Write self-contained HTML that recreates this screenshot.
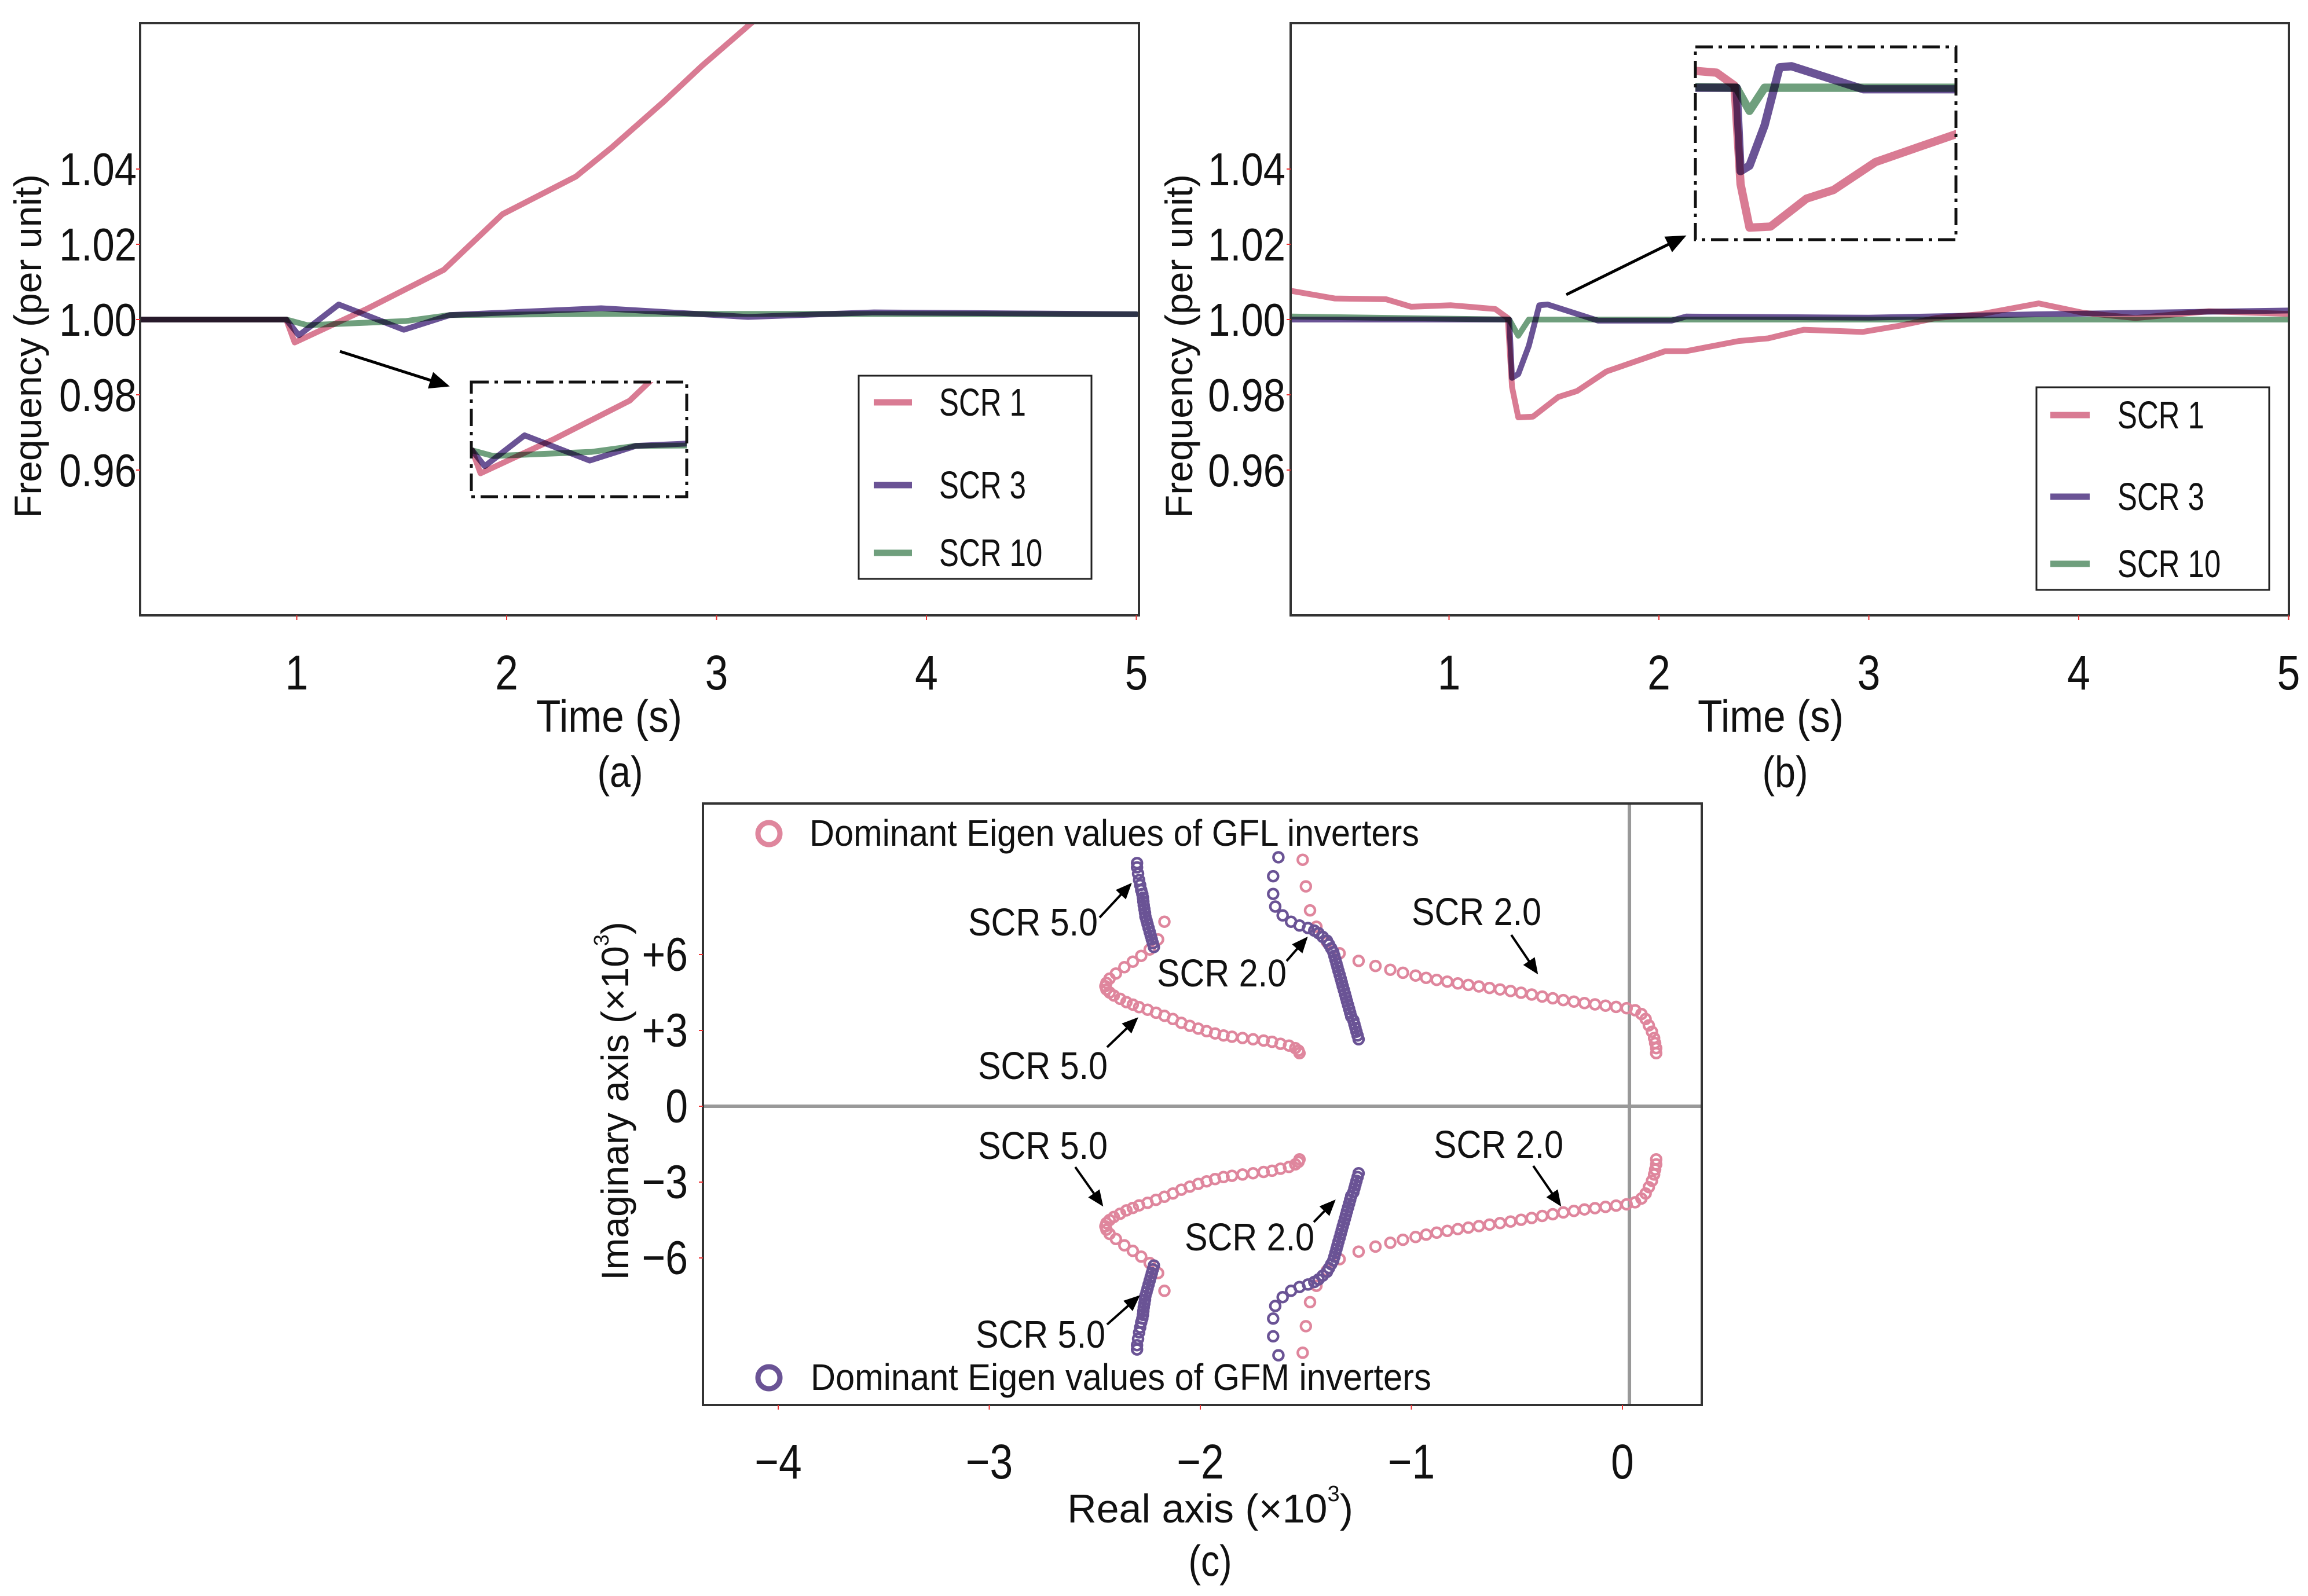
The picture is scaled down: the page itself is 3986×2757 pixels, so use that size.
<!DOCTYPE html>
<html><head><meta charset="utf-8"><style>
html,body{margin:0;padding:0;background:#fff;}
svg{display:block;font-family:"Liberation Sans",sans-serif;}
</style></head><body>
<svg id="fig" width="3986" height="2757" viewBox="0 0 3986 2757" xmlns="http://www.w3.org/2000/svg">
<defs>
<clipPath id="clipA"><rect x="242" y="40" width="1725" height="1023"/></clipPath>
<clipPath id="clipB"><rect x="2229" y="40" width="1724" height="1023"/></clipPath>
<clipPath id="clipInA"><rect x="814" y="660" width="372" height="198"/></clipPath>
<clipPath id="clipInB"><rect x="2928" y="81" width="450" height="333"/></clipPath>
<marker id="arr" markerWidth="8" markerHeight="8" refX="6" refY="4" orient="auto" markerUnits="strokeWidth"><path d="M0,1 L7,4 L0,7 z" fill="#000"/></marker>
</defs>
<rect width="3986" height="2757" fill="#fff"/>
<g id="root"></g>
</svg>
<script>
// ---------- Panel (a) data ----------
const aPinkT=[0.25,0.95,0.99,1.34,1.70,1.98,2.33,2.50,2.75,2.93,3.17,3.3];
const aPinkV=[1.0,1.0,0.9939,1.003,1.0132,1.028,1.038,1.0457,1.058,1.0674,1.079,1.085];
const aPurT=[0.25,0.95,1.01,1.2,1.51,1.73,2.45,3.15,3.75,5.0];
const aPurV=[1.0,1.0,0.9958,1.004,0.9973,1.0012,1.003,1.0007,1.0019,1.0014];
const aGrnT=[0.25,0.95,1.05,1.52,1.73,2.5,3.5,5.0];
const aGrnV=[1.0,1.0,0.9985,0.9996,1.0012,1.0015,1.0015,1.0014];
// ---------- Panel (b) data ----------
const bPinkT=[0.25,0.455,0.70,0.82,1.01,1.22,1.28,1.30,1.33,1.40,1.52,1.61,1.75,1.89,2.03,2.13,2.38,2.52,2.69,2.97,3.15,3.32,3.53,3.81,4.02,4.27,4.62,5.0];
const bPinkV=[1.0076,1.0056,1.0054,1.0034,1.0038,1.0028,1.0004,0.9821,0.974,0.9742,0.9794,0.981,0.9862,0.9889,0.9916,0.9916,0.9943,0.995,0.9973,0.9967,0.9984,1.0004,1.0014,1.0043,1.0018,1.0004,1.0022,1.0015];
const bPurT=[0.25,1.287,1.30,1.33,1.38,1.43,1.47,1.71,2.06,2.13,3.0,3.81,5.0];
const bPurV=[1.0,1.0,0.9845,0.9855,0.993,1.0038,1.004,0.9997,0.9997,1.0008,1.0005,1.0014,1.0024];
const bGrnT=[0.25,1.287,1.33,1.38,1.5,5.0];
const bGrnV=[1.0008,1.0,0.9957,1.0,1.0,1.0];
// ---------- Panel (c) eigenvalue data (real, imag) x10^3, upper half; conjugates drawn below ----------
const gflScr5Re=[-1.53,-1.535,-1.55,-1.58,-1.62,-1.66,-1.70,-1.75,-1.80,-1.85,-1.89,-1.93,-1.97,-2.01,-2.05,-2.09,-2.13,-2.17,-2.21,-2.25,-2.29,-2.32,-2.35,-2.38,-2.41,-2.43,-2.445,-2.45,-2.445,-2.43,-2.40,-2.36,-2.32,-2.28,-2.24,-2.20,-2.17];
const gflScr5Im=[2.1,2.2,2.3,2.4,2.47,2.55,2.6,2.65,2.7,2.75,2.8,2.88,2.97,3.07,3.18,3.3,3.45,3.58,3.7,3.82,3.92,4.02,4.12,4.25,4.38,4.5,4.62,4.75,4.88,5.05,5.25,5.5,5.72,5.95,6.2,6.6,7.3];
const gfmScr5Re=[-2.22,-2.225,-2.23,-2.235,-2.24,-2.245,-2.25,-2.255,-2.26,-2.262,-2.265,-2.268,-2.27,-2.272,-2.275,-2.28,-2.285,-2.29,-2.295,-2.30,-2.30];
const gfmScr5Im=[6.3,6.45,6.6,6.75,6.9,7.05,7.2,7.35,7.5,7.65,7.8,7.95,8.1,8.25,8.4,8.55,8.75,8.95,9.2,9.45,9.62];
const gflScr2Re=[0.16,0.16,0.155,0.15,0.14,0.125,0.11,0.09,0.06,0.02,-0.03,-0.08,-0.13,-0.18,-0.23,-0.28,-0.33,-0.38,-0.43,-0.48,-0.53,-0.58,-0.63,-0.68,-0.73,-0.78,-0.83,-0.88,-0.93,-0.98,-1.04,-1.10,-1.17,-1.25,-1.34,-1.40,-1.45,-1.48,-1.50,-1.515];
const gflScr2Im=[2.1,2.3,2.5,2.7,2.95,3.2,3.45,3.65,3.8,3.88,3.93,3.98,4.03,4.08,4.14,4.2,4.27,4.34,4.42,4.49,4.56,4.62,4.68,4.74,4.8,4.86,4.93,5.0,5.08,5.17,5.28,5.4,5.55,5.75,6.05,6.5,7.1,7.75,8.7,9.75];
const gfmScr2Re=[-1.25,-1.255,-1.26,-1.265,-1.27,-1.275,-1.285,-1.29,-1.295,-1.30,-1.305,-1.31,-1.315,-1.32,-1.325,-1.33,-1.335,-1.34,-1.345,-1.35,-1.355,-1.36,-1.365,-1.37,-1.38,-1.39,-1.40,-1.42,-1.44,-1.46,-1.49,-1.53,-1.57,-1.61,-1.645,-1.655,-1.655,-1.63];
const gfmScr2Im=[2.65,2.8,2.95,3.1,3.25,3.4,3.55,3.7,3.85,4.0,4.15,4.3,4.45,4.6,4.75,4.9,5.05,5.2,5.35,5.5,5.65,5.8,5.95,6.1,6.25,6.4,6.55,6.7,6.85,6.95,7.05,7.15,7.3,7.55,7.9,8.4,9.1,9.85];
const freqTicks=[1.04,1.02,1.00,0.98,0.96];
const freqTickLabels=["1.04","1.02","1.00","0.98","0.96"];
const timeTicks=[1,2,3,4,5];
const realTicks=[-4,-3,-2,-1,0];
const realTickLabels=["\u22124","\u22123","\u22122","\u22121","0"];
const imagTicks=[6,3,0,-3,-6];
const imagTickLabels=["+6","+3","0","\u22123","\u22126"];

const NS="http://www.w3.org/2000/svg";
const root=document.getElementById('root');
const PINK="#d97b93",PURPLE="#6a5395",GREEN="#6f9f7d",PINKC="#df869d";
function mk(tag,attrs,parent){const e=document.createElementNS(NS,tag);for(const k in attrs)e.setAttribute(k,attrs[k]);(parent||root).appendChild(e);return e;}
function txt(s,x,y,size,anchor,parent,sx){
  const a={'font-size':size,'text-anchor':anchor||'middle','dominant-baseline':'central',fill:'#111'};
  if(sx){a.x=0;a.y=0;a.transform='translate('+x+','+y+') scale('+sx+',1)';}else{a.x=x;a.y=y;}
  const t=mk('text',a,parent);t.textContent=s;return t;}

const yF=v=>552-(v-1)*6500;
const xA=t=>150+362.5*t;
const xB=t=>2140+362.5*t;
const xC=r=>2802+364.5*r;
const yC=i=>1911-43.67*i;

function pathD(T,V,xf){return T.map((t,i)=>(i?'L':'M')+xf(t).toFixed(1)+','+yF(V[i]).toFixed(1)).join(' ');}

function seriesGroup(parent,xf,sets,prefix){
  const g=mk('g',{style:'isolation:isolate'},parent);
  
  
  sets.forEach(s=>{
    const p=mk('path',{d:pathD(s.T,s.V,xf),fill:'none',stroke:s.c,'stroke-width':10,'stroke-linejoin':'round','stroke-linecap':'round',style:'mix-blend-mode:multiply'},g);
    
    
  });
  return g;
}

function freqPanel(opt){
  const P=mk('g',{});
  
  
  const sets=[{T:opt.gT,V:opt.gV,c:GREEN,n:'scr10-line'},{T:opt.uT,V:opt.uV,c:PURPLE,n:'scr3-line'},{T:opt.pT,V:opt.pV,c:PINK,n:'scr1-line'}];
  const cg=mk('g',{'clip-path':'url(#'+opt.clip+')'},P);
  seriesGroup(cg,opt.xf,sets,opt.prefix);
  const ig=mk('g',{'clip-path':'url(#'+opt.inClip+')'},P);
  const it=mk('g',{transform:opt.inTf},ig);
  seriesGroup(it,opt.xf,sets,opt.prefix+'-inset');
  const ib=mk('rect',{x:opt.inBox[0],y:opt.inBox[1],width:opt.inBox[2],height:opt.inBox[3],fill:'none',stroke:'#111','stroke-width':5,'stroke-dasharray':'30 10 6 10'},P);
  
  
  const ar=mk('line',{x1:opt.arr[0],y1:opt.arr[1],x2:opt.arr[2],y2:opt.arr[3],stroke:'#000','stroke-width':5,'marker-end':'url(#arr)'},P);
  
  
  const fr=mk('rect',{x:opt.frame[0],y:40,width:opt.frame[1]-opt.frame[0],height:1023,fill:'none',stroke:'#333','stroke-width':4},P);
  
  
  freqTicks.forEach((v,i)=>{
    mk('line',{x1:opt.frame[0]-7,x2:opt.frame[0],y1:yF(v),y2:yF(v),stroke:'#e33','stroke-width':2},P);
    const t=txt(freqTickLabels[i],opt.yLabX,yF(v),80,'end',P,0.86);
    
    
  });
  timeTicks.forEach(tv=>{
    mk('line',{x1:opt.xf(tv),x2:opt.xf(tv),y1:1063,y2:1071,stroke:'#e33','stroke-width':2},P);
    const t=txt(String(tv),opt.xf(tv),1162,84,'middle',P,0.85);
    
    
  });
  const yl=txt('Frequency (per unit)',0,0,66,'middle',P);
  yl.setAttribute('transform','translate('+opt.yTitleX+',598) rotate(-90)');
  
  
  const xl=txt('Time (s)',opt.xTitleX,1237,78,'middle',P,0.89);
  
  
  const cap=txt(opt.cap,opt.capX,1333,76,'middle',P,0.85);
  
  
  const L=mk('g',{},P);
  
  
  mk('rect',{x:opt.leg[0],y:opt.leg[1],width:opt.leg[2],height:opt.leg[3],fill:'#fff',stroke:'#222','stroke-width':3},L);
  [['SCR 1',PINK],['SCR 3',PURPLE],['SCR 10',GREEN]].forEach((e,i)=>{
    const y=opt.legY[i];
    const en=mk('g',{},L);
    
    
    mk('line',{x1:opt.legLine[0],x2:opt.legLine[1],y1:y,y2:y,stroke:e[1],'stroke-width':11},en);
    txt(e[0],opt.legText,y,67,'start',en,0.76);
  });
}

freqPanel({name:'panel-a',prefix:'a',xf:xA,clip:'clipA',inClip:'clipInA',inTf:'translate(321,226)',inBox:[814,660,372,198],
  arr:[587,607,772,666],frame:[242,1967],yLabX:236,yTitleX:48,xTitleX:1052,cap:'(a)',capX:1071,
  leg:[1483,649,402,351],legY:[695,838,955],legLine:[1509,1575],legText:1622,
  pT:aPinkT,pV:aPinkV,uT:aPurT,uV:aPurV,gT:aGrnT,gV:aGrnV});
freqPanel({name:'panel-b',prefix:'b',xf:xB,clip:'clipB',inClip:'clipInB',inTf:'translate(2997,153) scale(1.43) translate(-2605,-553)',inBox:[2928,81,450,333],
  arr:[2705,509,2908,409],frame:[2229,3953],yLabX:2220,yTitleX:2036,xTitleX:3058,cap:'(b)',capX:3083,
  leg:[3517,669,402,350],legY:[717,858,974],legLine:[3541,3609],legText:3657,
  pT:bPinkT,pV:bPinkV,uT:bPurT,uV:bPurV,gT:bGrnT,gV:bGrnV});

// ---------- Panel (c) ----------
const C=mk('g',{});


const zl1=mk('line',{x1:1214,x2:2939,y1:yC(0),y2:yC(0),stroke:'#999','stroke-width':6},C);


const zl2=mk('line',{x1:xC(0.033),x2:xC(0.033),y1:1388,y2:2427,stroke:'#999','stroke-width':6},C);


function scatter(Re,Im,color,name){
  const g=mk('g',{},C);
  
  
  [1,-1].forEach(sg=>{
    Re.forEach((r,i)=>{
      const c=mk('circle',{cx:xC(r).toFixed(1),cy:yC(sg*Im[i]).toFixed(1),r:8.5,fill:'none',stroke:color,'stroke-width':4.5},g);
      
      
    });
  });
}
scatter(gflScr5Re,gflScr5Im,PINKC,'gfl-scr5-eigenvalues');
scatter(gflScr2Re,gflScr2Im,PINKC,'gfl-scr2-eigenvalues');
scatter(gfmScr5Re,gfmScr5Im,PURPLE,'gfm-scr5-eigenvalues');
scatter(gfmScr2Re,gfmScr2Im,PURPLE,'gfm-scr2-eigenvalues');
const frc=mk('rect',{x:1214,y:1388,width:1725,height:1039,fill:'none',stroke:'#333','stroke-width':4},C);


realTicks.forEach((r,i)=>{
  mk('line',{x1:xC(r),x2:xC(r),y1:2427,y2:2435,stroke:'#e33','stroke-width':2},C);
  const t=txt(realTickLabels[i],xC(r),2525,84,'middle',C,0.85);
  
  
});
imagTicks.forEach((v,i)=>{
  mk('line',{x1:1207,x2:1214,y1:yC(v),y2:yC(v),stroke:'#e33','stroke-width':2},C);
  const t=txt(imagTickLabels[i],1188,yC(v),82,'end',C,0.85);
  
  
});
const cyl=mk('text',{'font-size':66,'text-anchor':'middle','dominant-baseline':'central',fill:'#111',transform:'translate(1062,1902) rotate(-90)'},C);
cyl.innerHTML='Imaginary axis (\u00d710<tspan font-size="36" dy="-24">3</tspan><tspan dy="24">)</tspan>';


const cxl=mk('text',{x:2090,y:2606,'font-size':70,'text-anchor':'middle','dominant-baseline':'central',fill:'#111'},C);
cxl.innerHTML='Real axis (\u00d710<tspan font-size="38" dy="-25">3</tspan><tspan dy="25">)</tspan>';


const ccap=txt('(c)',2090,2696,76,'middle',C,0.85);


const lg1=mk('g',{},C);


mk('circle',{cx:1328,cy:1440,r:19,fill:'none',stroke:PINKC,'stroke-width':9},lg1);
txt('Dominant Eigen values of GFL inverters',1398,1440,64,'start',lg1,0.93);
const lg2=mk('g',{},C);


mk('circle',{cx:1328,cy:2380,r:19,fill:'none',stroke:PURPLE,'stroke-width':9},lg2);
txt('Dominant Eigen values of GFM inverters',1400,2380,64,'start',lg2,0.93);
const annTexts=['SCR 5.0','SCR 2.0','SCR 2.0','SCR 5.0','SCR 5.0','SCR 2.0','SCR 2.0','SCR 5.0'];
const annTextX=[1784,2110,2550,1801,1801,2588,2158,1797];
const annTextY=[1594,1682,1576,1842,1980,1978,2138,2306];
const annArrow=[[1899,1585,1952,1528],[2222,1660,2256,1621],[2610,1615,2654,1680],[1912,1809,1963,1760],[1857,2016,1903,2081],[2648,2014,2694,2081],[2269,2111,2304,2075],[1912,2288,1966,2240]];
annTexts.forEach((s,i)=>{
  const g=mk('g',{},C);
  
  
  txt(s,annTextX[i],annTextY[i],67,'middle',g,0.885);
  const a=annArrow[i];
  mk('line',{x1:a[0],y1:a[1],x2:a[2],y2:a[3],stroke:'#000','stroke-width':4,'marker-end':'url(#arr)'},g);
});
</script>
</body></html>
